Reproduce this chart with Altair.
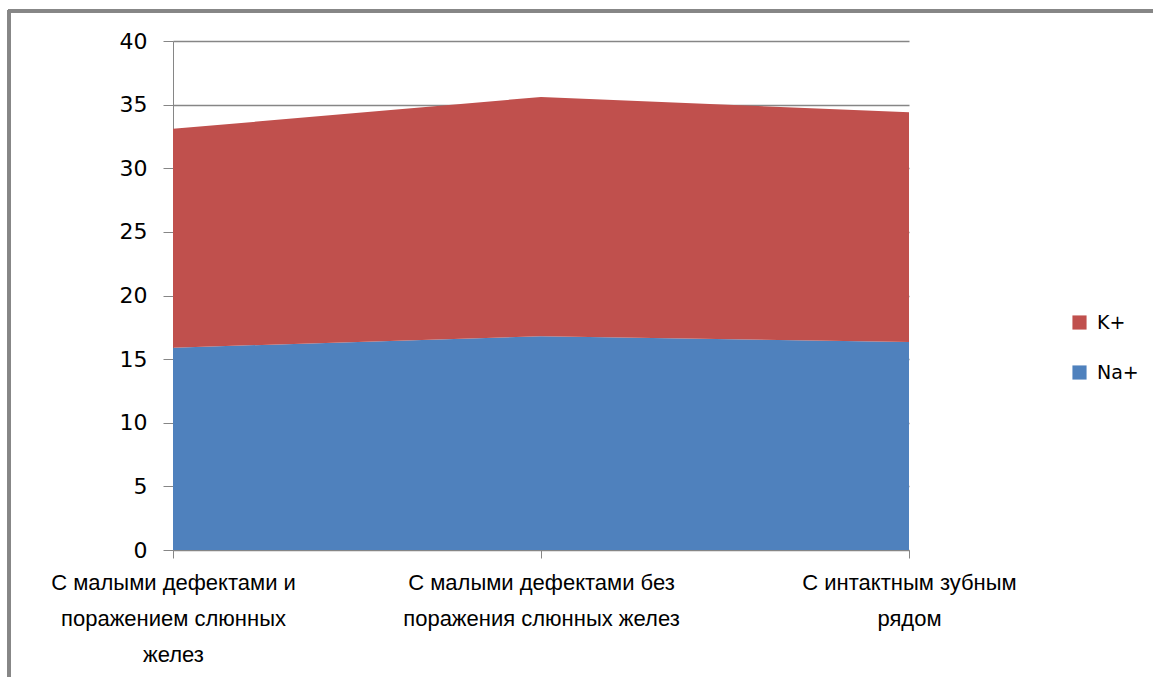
import altair as alt
import pandas as pd

categories = [
    "С малыми дефектами и|поражением слюнных|желез",
    "С малыми дефектами без|поражения слюнных желез",
    "С интактным зубным|рядом",
]
series_names = ["Na+", "K+"]
na_values = [15.9, 16.8, 16.35]
k_values = [17.2, 18.8, 18.05]

rows = []
for i, c in enumerate(categories):
    rows.append({"cat": c, "series": "Na+", "value": na_values[i], "ord": 0})
    rows.append({"cat": c, "series": "K+", "value": k_values[i], "ord": 1})
df = pd.DataFrame(rows)

color_scale = alt.Scale(domain=["K+", "Na+"], range=["#C0504D", "#4F81BD"])

area = alt.Chart(df).mark_area(opacity=1).encode(
    x=alt.X("cat:N", sort=categories, scale=alt.Scale(type="point", padding=0),
            axis=alt.Axis(title=None, labelAngle=0, labelExpr="split(datum.label, '|')",
                          labelFont="Liberation Sans", labelFontSize=22, labelLimit=0,
                          labelColor="#000000", labelLineHeight=36, labelPadding=14,
                          domain=True, domainColor="#868686", ticks=True, tickColor="#868686",
                          tickSize=8, grid=False, labelFlush=False)),
    y=alt.Y("value:Q", stack="zero", scale=alt.Scale(domain=[0, 40]),
            axis=alt.Axis(title=None, values=list(range(0, 41, 5)), labelFont="DejaVu Sans",
                          labelFontSize=22, labelColor="#000000", labelPadding=16,
                          domainColor="#868686", tickColor="#868686", tickSize=10,
                          grid=True, gridColor="#868686", gridWidth=1.5)),
    color=alt.Color("series:N", scale=color_scale,
                    legend=alt.Legend(title=None, orient="none", legendX=897, legendY=272,
                                      symbolType="square", symbolSize=200,
                                      symbolStrokeWidth=0, labelFont="DejaVu Sans",
                                      labelFontSize=19, labelColor="#000000",
                                      rowPadding=30, labelOffset=8)),
    order=alt.Order("ord:Q"),
)

left_border = alt.Chart(df).mark_rule(color="#868686", strokeWidth=3).encode(
    x=alt.value(-164), y=alt.value(-31), y2=alt.value(640)
)
top_border = alt.Chart(df).mark_rule(color="#868686", strokeWidth=3).encode(
    x=alt.value(-165), x2=alt.value(990), y=alt.value(-30)
)

chart = alt.layer(area, left_border, top_border).properties(
    width=736, height=509,
    autosize=alt.AutoSizeParams(type="none"),
    padding={"left": 173, "top": 41, "right": 244, "bottom": 127},
    background="#FFFFFF",
).configure_view(stroke=None).configure_axis(labelOverlap=False)

chart.save("out.html", embed_options={"renderer": "svg", "actions": False})
